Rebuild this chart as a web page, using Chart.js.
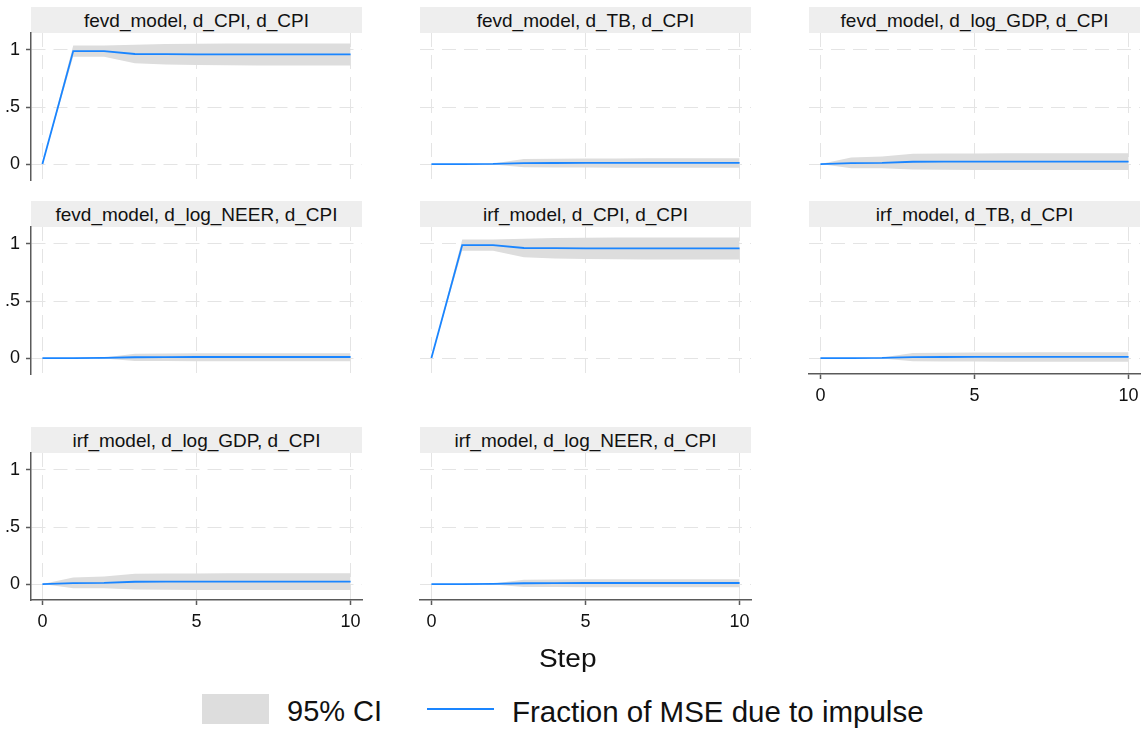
<!DOCTYPE html>
<html><head><meta charset="utf-8">
<script src="https://cdn.jsdelivr.net/npm/chart.js@4.4.1/dist/chart.umd.min.js"></script>
<style>
html,body{margin:0;padding:0;background:#fff;}
body{width:1146px;height:730px;overflow:hidden;position:relative;font-family:"Liberation Sans",Arial,sans-serif;color:#111;}
.title{position:absolute;height:25px;padding-top:1px;background:#eeeeee;font-size:19px;line-height:26px;text-align:center;white-space:nowrap;}
.title span{display:inline-block;}
.txt{position:absolute;white-space:nowrap;}
canvas{position:absolute;}
</style></head><body>
<script>
// ---------- data ----------
const steps = [0, 1, 2, 3, 4, 5, 6, 7, 8, 9, 10];
const xTicks = [0, 5, 10];
const yTicks = [0, 0.5, 1];
const yTickLabels = ['0', '.5', '1'];

const cpiLine = [0, 0.99, 0.99, 0.965, 0.963, 0.962, 0.962, 0.962, 0.962, 0.962, 0.962];
const cpiLow  = [0, 0.94, 0.94, 0.883, 0.872, 0.868, 0.866, 0.865, 0.865, 0.865, 0.865];
const cpiHigh = [0, 1.04, 1.04, 1.047, 1.052, 1.055, 1.056, 1.057, 1.058, 1.058, 1.058];

const tbLine = [0, 0, 0.001, 0.008, 0.009, 0.01, 0.01, 0.01, 0.01, 0.01, 0.01];
const tbLow  = [0, 0, -0.003, -0.028, -0.03, -0.031, -0.032, -0.032, -0.032, -0.032, -0.032];
const tbHigh = [0, 0, 0.005, 0.044, 0.047, 0.048, 0.049, 0.05, 0.05, 0.05, 0.05];

const gdpLine = [0, 0.008, 0.01, 0.02, 0.021, 0.022, 0.022, 0.022, 0.022, 0.022, 0.022];
const gdpLow  = [0, -0.038, -0.038, -0.047, -0.05, -0.052, -0.052, -0.053, -0.053, -0.053, -0.053];
const gdpHigh = [0, 0.058, 0.066, 0.09, 0.092, 0.093, 0.094, 0.094, 0.095, 0.095, 0.095];

const neerLine = [0, 0, 0.001, 0.007, 0.008, 0.009, 0.009, 0.009, 0.009, 0.009, 0.009];
const neerLow  = [0, 0, -0.003, -0.025, -0.027, -0.028, -0.028, -0.029, -0.029, -0.029, -0.029];
const neerHigh = [0, 0, 0.005, 0.038, 0.04, 0.041, 0.042, 0.042, 0.042, 0.042, 0.042];

const panelTitles = [
  'fevd_model, d_CPI, d_CPI', 'fevd_model, d_TB, d_CPI', 'fevd_model, d_log_GDP, d_CPI',
  'fevd_model, d_log_NEER, d_CPI', 'irf_model, d_CPI, d_CPI', 'irf_model, d_TB, d_CPI',
  'irf_model, d_log_GDP, d_CPI', 'irf_model, d_log_NEER, d_CPI'
];
const panelSeries = [
  [cpiLine, cpiLow, cpiHigh], [tbLine, tbLow, tbHigh], [gdpLine, gdpLow, gdpHigh],
  [neerLine, neerLow, neerHigh], [cpiLine, cpiLow, cpiHigh], [tbLine, tbLow, tbHigh],
  [gdpLine, gdpLow, gdpHigh], [neerLine, neerLow, neerHigh]
];
const legendLabels = ['95% CI', 'Fraction of MSE due to impulse'];
const xAxisTitle = 'Step';

// ---------- layout / style ----------
const plotLeft = [31, 420, 809];
const titleTop = [7, 201, 427];
const titleH = 26;
const PW = 331, PH = 147;
const LPAD = 40, RPAD = 20, TPAD = 20, XH = 40, BPAD = 20;
const LINE_COLOR = '#1a85ff';
const CI_COLOR = '#dddddd';
const GRID = '#e4e4e4';
const AXIS = '#5a5a5a';
const FONT = '"Liberation Sans", Arial, sans-serif';
const xAxisPanels = [5, 6, 7];

function addDiv(cls, text, css) {
  const d = document.createElement('div');
  d.className = cls;
  const s = document.createElement('span');
  s.textContent = text;
  d.appendChild(s);
  Object.assign(d.style, css);
  document.body.appendChild(d);
  return d;
}

function makePanel(i) {
  const col = i % 3, row = Math.floor(i / 3);
  const hasY = col === 0;
  const hasX = xAxisPanels.includes(i);
  const [lineArr, lowArr, highArr] = panelSeries[i];

  addDiv('title', panelTitles[i], {left: plotLeft[col] + 'px', top: titleTop[row] + 'px', width: PW + 'px'});

  const c = document.createElement('canvas');
  const w = LPAD + PW + RPAD, h = TPAD + PH + (hasX ? XH : BPAD);
  c.width = w; c.height = h;
  c.style.width = w + 'px'; c.style.height = h + 'px';
  c.style.left = (plotLeft[col] - LPAD) + 'px';
  c.style.top = (titleTop[row] + titleH - TPAD) + 'px';
  document.body.appendChild(c);

  const pts = arr => steps.map((s, k) => ({x: s, y: arr[k]}));
  new Chart(c, {
    type: 'line',
    data: {
      datasets: [
        {data: pts(lineArr), borderColor: LINE_COLOR, borderWidth: 1.8, pointRadius: 0, fill: false, tension: 0},
        {data: pts(lowArr), borderColor: 'rgba(0,0,0,0)', borderWidth: 0, pointRadius: 0, fill: false, tension: 0},
        {data: pts(highArr), borderColor: 'rgba(0,0,0,0)', borderWidth: 0, pointRadius: 0, fill: '-1', backgroundColor: CI_COLOR, tension: 0}
      ]
    },
    options: {
      responsive: false, animation: false, devicePixelRatio: 1,
      layout: {padding: {left: 0, right: RPAD, top: TPAD, bottom: hasX ? 0 : BPAD}},
      plugins: {legend: {display: false}, tooltip: {enabled: false}},
      scales: {
        x: {
          type: 'linear', min: -0.37, max: 10.37,
          afterBuildTicks: s => { s.ticks = xTicks.map(v => ({value: v})); },
          afterFit: s => { s.height = hasX ? XH : 0; },
          grid: {color: GRID, lineWidth: 1, drawTicks: hasX, tickLength: 5, tickColor: AXIS, tickWidth: 1.5},
          border: {display: hasX, color: AXIS, width: 1.5, dash: [14, 8]},
          ticks: {display: hasX, padding: 6, color: '#111', font: {family: FONT, size: 18}, maxRotation: 0, autoSkip: false}
        },
        y: {
          type: 'linear', min: -0.14, max: 1.149,
          afterBuildTicks: s => { s.ticks = yTicks.map(v => ({value: v})); },
          afterFit: s => { s.width = LPAD; },
          grid: {color: GRID, lineWidth: 1, drawTicks: hasY, tickLength: 5, tickColor: AXIS, tickWidth: 1.5},
          border: {display: hasY, color: AXIS, width: 1.5, dash: [14, 8]},
          ticks: {
            display: hasY, padding: 6, color: '#111', font: {family: FONT, size: 18}, autoSkip: false,
            callback: v => { const k = yTicks.indexOf(v); return k >= 0 ? yTickLabels[k] : ''; }
          }
        }
      }
    }
  });
}

for (let i = 0; i < panelTitles.length; i++) makePanel(i);

// x-axis title
const st = addDiv('txt', xAxisTitle, {left: '468px', top: '646px', width: '200px', textAlign: 'center', fontSize: '25px', lineHeight: '25px'});
st.firstChild.style.display = 'inline-block';
st.firstChild.style.transform = 'scaleX(1.12)';

// legend
const box = document.createElement('div');
Object.assign(box.style, {position: 'absolute', left: '202px', top: '694px', width: '67px', height: '30px', background: CI_COLOR});
document.body.appendChild(box);
addDiv('txt', legendLabels[0], {left: '287px', top: '697px', fontSize: '29px', lineHeight: '29px'});
const ln = document.createElement('div');
Object.assign(ln.style, {position: 'absolute', left: '427px', top: '708px', width: '67px', height: '2px', background: LINE_COLOR});
document.body.appendChild(ln);
addDiv('txt', legendLabels[1], {left: '512px', top: '697px', fontSize: '29.5px', lineHeight: '29px'});
</script>
</body></html>
